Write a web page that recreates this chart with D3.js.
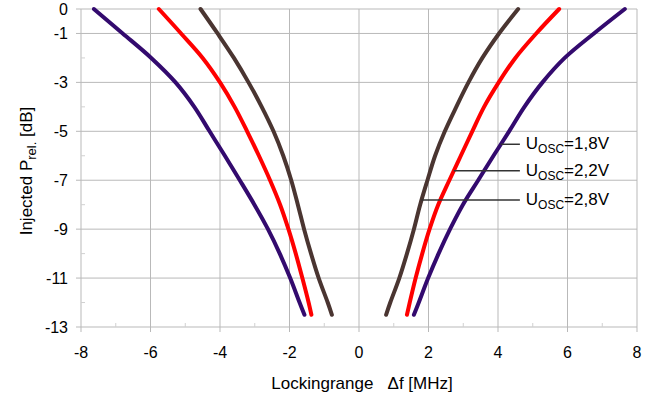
<!DOCTYPE html>
<html>
<head>
<meta charset="utf-8">
<script src="https://cdn.jsdelivr.net/npm/d3@7"></script>
<style>
  body { margin: 0; background: #fff; }
  text { font-family: "Liberation Sans", Arial, sans-serif; fill: #000; }
</style>
</head>
<body>
<div id="chart"></div>
<script>
// injected power levels [dB], same for every curve
const levels = [0, -1, -2, -3, -4, -5, -6, -7, -8, -9, -10, -11, -12, -12.5];

// locking range edges [MHz], lower (negative) and upper (positive) branch
const lo18 = [-7.63, -6.8, -5.98, -5.28, -4.74, -4.3, -3.86, -3.43, -3.01, -2.62, -2.28, -1.98, -1.71, -1.57];
const hi18 = [7.65, 6.76, 5.92, 5.28, 4.76, 4.32, 3.87, 3.43, 2.99, 2.62, 2.29, 1.99, 1.72, 1.58];
const lo22 = [-5.76, -5.12, -4.5, -4.0, -3.58, -3.22, -2.88, -2.56, -2.27, -2.03, -1.82, -1.63, -1.45, -1.37];
const hi22 = [5.76, 5.1, 4.5, 4.02, 3.6, 3.26, 2.93, 2.6, 2.28, 2.03, 1.82, 1.63, 1.46, 1.38];
const lo28 = [-4.56, -4.07, -3.6, -3.18, -2.8, -2.46, -2.18, -1.95, -1.76, -1.58, -1.38, -1.16, -0.9, -0.78];
const hi28 = [4.58, 4.03, 3.55, 3.15, 2.8, 2.47, 2.19, 1.97, 1.76, 1.58, 1.38, 1.16, 0.9, 0.78];

const series = [
  {name: "1,8V", color: "#330a6e", lo: lo18, hi: hi18, labelAt: -5.53},
  {name: "2,2V", color: "#ff0000", lo: lo22, hi: hi22, labelAt: -6.61},
  {name: "2,8V", color: "#4a3531", lo: lo28, hi: hi28, labelAt: -7.81}
];

const xTicks = [-8, -6, -4, -2, 0, 2, 4, 6, 8];
const xMinor = [-7, -5, -3, -1, 1, 3, 5, 7];
const yTicks = [0, -1, -3, -5, -7, -9, -11, -13];
const yMinor = [-2, -4, -6, -8, -10, -12];

const W = 667, H = 401;
const margin = {top: 9, right: 30, bottom: 74, left: 81};
const width = W - margin.left - margin.right,
      height = H - margin.top - margin.bottom;

const svg = d3.select("#chart").append("svg")
    .attr("width", W).attr("height", H);
const g = svg.append("g")
    .attr("transform", "translate(" + margin.left + "," + margin.top + ")");

const x = d3.scaleLinear().domain([-8, 8]).range([0, width]);
const y = d3.scaleLinear().domain([0, -13]).range([0, height]);

const grid = "#b9b9b9";

// grid lines
g.append("g").selectAll("line").data(yTicks).enter().append("line")
    .attr("x1", -5).attr("x2", width)
    .attr("y1", d => y(d)).attr("y2", d => y(d))
    .attr("stroke", grid);
g.append("g").selectAll("line").data(xTicks).enter().append("line")
    .attr("x1", d => x(d)).attr("x2", d => x(d))
    .attr("y1", 0).attr("y2", height + 5)
    .attr("stroke", grid);

// minor ticks (inside)
g.append("g").selectAll("line").data(yMinor).enter().append("line")
    .attr("x1", 0).attr("x2", 4)
    .attr("y1", d => y(d)).attr("y2", d => y(d))
    .attr("stroke", "#d0d0d0");
g.append("g").selectAll("line").data(xMinor).enter().append("line")
    .attr("x1", d => x(d)).attr("x2", d => x(d))
    .attr("y1", height).attr("y2", height - 4)
    .attr("stroke", "#d0d0d0");

// tick labels
g.append("g").selectAll("text").data(yTicks).enter().append("text")
    .attr("x", -13).attr("y", d => y(d)).attr("dy", "0.36em")
    .attr("text-anchor", "end").style("font-size", "16px")
    .text(d => d);
g.append("g").selectAll("text").data(xTicks).enter().append("text")
    .attr("x", d => x(d)).attr("y", height + 31)
    .attr("text-anchor", "middle").style("font-size", "16px")
    .text(d => d);

// axis titles
svg.append("text")
    .attr("x", margin.left + x(0) + 3).attr("y", 389)
    .attr("text-anchor", "middle").style("font-size", "17px")
    .attr("xml:space", "preserve")
    .text("Lockingrange   \u0394f [MHz]");

const yl = svg.append("text")
    .attr("transform", "translate(32,171) rotate(-90)")
    .attr("text-anchor", "middle").style("font-size", "17px");
yl.append("tspan").text("Injected P");
yl.append("tspan").attr("dy", 4).style("font-size", "13px").text("rel.");
yl.append("tspan").attr("dy", -4).text(" [dB]");

// curves
const line = d3.line()
    .x(d => x(d[0])).y(d => y(d[1]))
    .curve(d3.curveCatmullRom);

series.forEach(s => {
  [s.lo, s.hi].forEach(vals => {
    g.append("path")
        .datum(vals.map((v, i) => [v, levels[i]]))
        .attr("d", line)
        .attr("fill", "none")
        .attr("stroke", s.color)
        .attr("stroke-width", 4)
        .attr("stroke-linecap", "round")
        .attr("stroke-linejoin", "round");
  });
});

// labels with leader lines to the upper branch
const interp = (vals, lvl) => {
  for (let i = 0; i < levels.length - 1; i++) {
    if (lvl <= levels[i] && lvl >= levels[i + 1]) {
      const t = (levels[i] - lvl) / (levels[i] - levels[i + 1]);
      return vals[i] + t * (vals[i + 1] - vals[i]);
    }
  }
  return vals[0];
};

series.forEach(s => {
  const yy = y(s.labelAt);
  g.append("line")
      .attr("x1", x(interp(s.hi, s.labelAt))).attr("x2", x(4.63))
      .attr("y1", yy).attr("y2", yy)
      .attr("stroke", "#333").attr("stroke-width", 1.5);
  const t = g.append("text")
      .attr("x", x(4.8)).attr("y", yy + 5)
      .style("font-size", "17px");
  t.append("tspan").text("U");
  t.append("tspan").attr("dy", 4).style("font-size", "12px").text("OSC");
  t.append("tspan").attr("dy", -4).text("=" + s.name);
});
</script>
</body>
</html>
